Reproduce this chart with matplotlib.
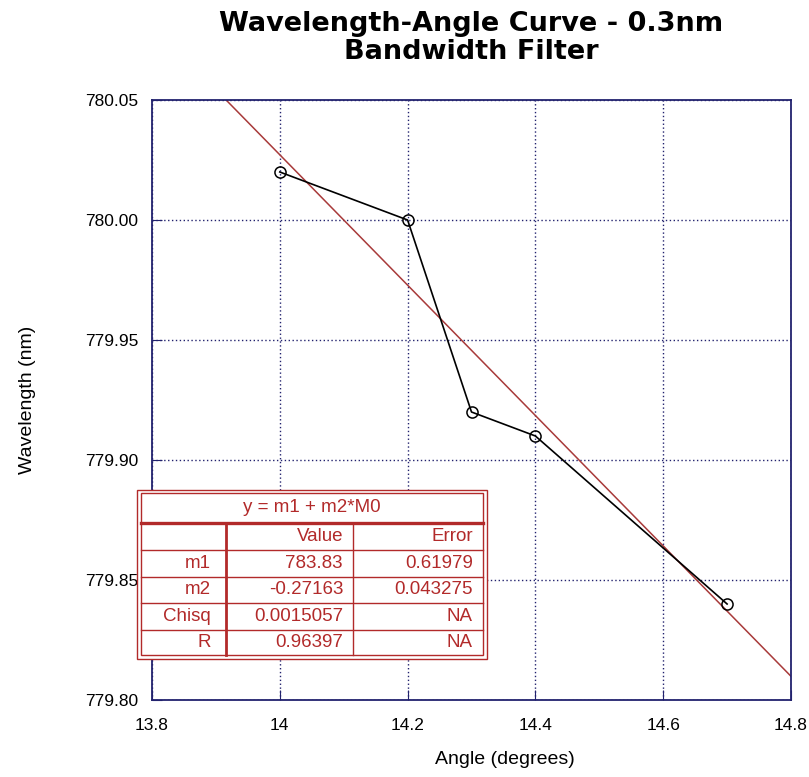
import numpy as np
import matplotlib
matplotlib.use('Agg')
import matplotlib.pyplot as plt
from matplotlib.lines import Line2D
from matplotlib.patches import Rectangle

# measured points
angle = [14.0, 14.2, 14.3, 14.4, 14.7]
wavelength = [780.02, 780.00, 779.92, 779.91, 779.84]

# curve fit results shown in the table
fit_title = 'y = m1 + m2*M0'
col_names = ['', 'Value', 'Error']
row_names = ['m1', 'm2', 'Chisq', 'R']
values = ['783.83', '-0.27163', '0.0015057', '0.96397']
errors = ['0.61979', '0.043275', 'NA', 'NA']
m1, m2 = 783.83, -0.27163

W, H = 809, 777
fig = plt.figure(figsize=(W / 100, H / 100), dpi=100)
plt.rcParams['font.family'] = ['Liberation Sans', 'DejaVu Sans']

def fx(x):
    return x / W

def fy(y):
    return 1 - y / H

navy = '#22226e'
red = '#b22a2a'

ax = fig.add_axes([fx(152), fy(700), (791 - 152) / W, 600 / H])
ax.set_xlim(13.8, 14.8)
ax.set_ylim(779.80, 780.05)
ax.set_xticks([13.8, 14.0, 14.2, 14.4, 14.6, 14.8])
ax.set_xticklabels(['13.8', '14', '14.2', '14.4', '14.6', '14.8'])
ax.set_yticks([779.80, 779.85, 779.90, 779.95, 780.00, 780.05])
ax.set_yticklabels(['779.80', '779.85', '779.90', '779.95', '780.00', '780.05'])
ax.tick_params(direction='in', length=7, color=navy, labelsize=12.5)
ax.tick_params(axis='y', pad=10)
ax.tick_params(axis='x', pad=13)
for s in ax.spines.values():
    s.set_color(navy)
    s.set_linewidth(1.3)
ax.grid(True, linestyle=(0, (1, 1.8)), color=navy, linewidth=1)

# fit line
xs = np.array([13.8, 14.8])
ax.plot(xs, m1 + m2 * xs, color='#a83a3a', linewidth=1.1)

ax.plot(angle, wavelength, color='black', linewidth=1.2, marker='o',
        markersize=8, markerfacecolor='none', markeredgecolor='black',
        markeredgewidth=1.1)

fig.text(fx(505), fy(759), 'Angle (degrees)', ha='center', va='center',
         fontsize=14)
fig.text(fx(28), fy(400), 'Wavelength (nm)', ha='center', va='center',
         rotation=90, fontsize=14)
fig.text(fx(471), fy(38), 'Wavelength-Angle Curve - 0.3nm\nBandwidth Filter',
         ha='center', va='center', fontsize=19.5, fontweight='bold',
         family='DejaVu Sans', linespacing=1.12)

# fit table, drawn in figure pixels
def hline(y, x0, x1, lw=1.0):
    fig.add_artist(Line2D([fx(x0), fx(x1)], [fy(y), fy(y)], color=red, lw=lw,
                          zorder=5))

def vline(x, y0, y1, lw=1.0):
    fig.add_artist(Line2D([fx(x), fx(x)], [fy(y0), fy(y1)], color=red, lw=lw,
                          zorder=5))

L0, R0, T0, B0 = 137, 487, 490, 659
L, R, T, B = 141, 483, 493, 655
fig.add_artist(Rectangle((fx(L0), fy(B0)), (R0 - L0) / W, (B0 - T0) / H,
                         facecolor='white', edgecolor=red, lw=1.0, zorder=4))
fig.add_artist(Rectangle((fx(L), fy(B)), (R - L) / W, (B - T) / H,
                         facecolor='none', edgecolor=red, lw=1.0, zorder=5))
rows_y = [523, 550, 577, 603, 630, 655]
cols_x = [141, 226, 353, 483]
pads = [15, 10, 10]
hline(rows_y[0], L, R, lw=2.4)
for y in rows_y[1:-1]:
    hline(y, L, R)
vline(cols_x[1], rows_y[0], B, lw=2.0)
vline(cols_x[2], rows_y[0], B, lw=1.0)

fig.text(fx((L + R) / 2), fy((T + rows_y[0]) / 2), fit_title, ha='center',
         va='center', color=red, fontsize=13.5, zorder=6)
table = [col_names] + [[r, v, e] for r, v, e in zip(row_names, values, errors)]
for i, row in enumerate(table):
    yc = (rows_y[i] + rows_y[i + 1]) / 2
    for j, txt in enumerate(row):
        fig.text(fx(cols_x[j + 1] - pads[j]), fy(yc), txt, ha='right',
                 va='center', color=red, fontsize=13.5, zorder=6)

fig.savefig('out.png', dpi=100)
